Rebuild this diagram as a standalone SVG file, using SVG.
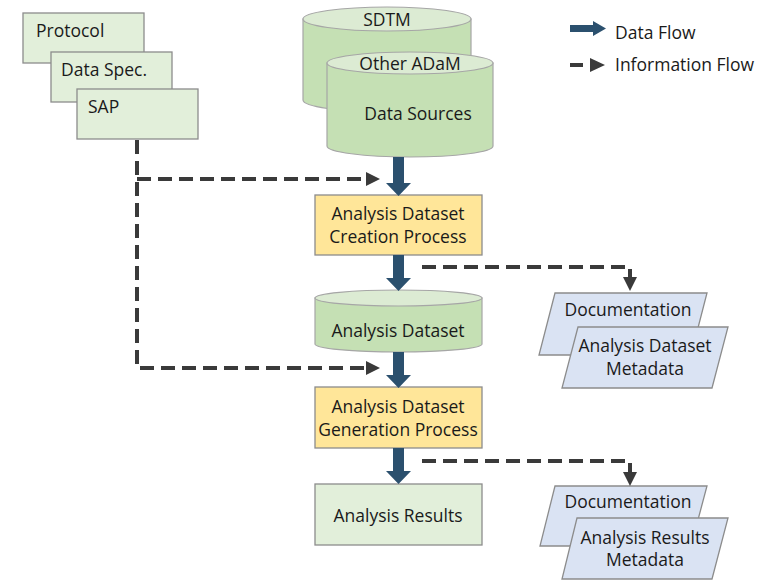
<svg xmlns="http://www.w3.org/2000/svg" width="768" height="583" viewBox="0 0 768 583">
<defs>
<style>
text{font-family:"Open Sans","Noto Sans","DejaVu Sans",sans-serif;font-size:17.5px;fill:#1a1a1a}
.c{text-anchor:middle}
.gbox{fill:#e2efda;stroke:#8c8c8c;stroke-width:1.3}
.ybox{fill:#ffe699;stroke:#8c8c8c;stroke-width:1.3}
.pbox{fill:#dae3f3;stroke:#8c8c8c;stroke-width:1.3}
.cyl{fill:#c5e0b4;stroke:#a6a6a6;stroke-width:1.2}
.cyltop{fill:#dcebd3;stroke:#a6a6a6;stroke-width:1.2}
.info{fill:none;stroke:#3a3a3a;stroke-width:4;stroke-dasharray:14 7}
.data{fill:#2b506e}
.head{fill:#3a3a3a}
</style>
</defs>
<rect width="768" height="583" fill="#ffffff"/>

<g id="protocol"><rect class="gbox" x="23" y="13" width="121" height="50"/><text x="36" y="37">Protocol</text></g>
<g id="dataspec"><rect class="gbox" x="51" y="52" width="121" height="50"/><text x="61" y="76">Data Spec.</text></g>
<g id="sap"><rect class="gbox" x="77" y="89" width="121" height="50"/><text x="88" y="113">SAP</text></g>

<g id="sdtm">
<path class="cyl" d="M303,19 V100 A84,12 0 0 0 471,100 V19 Z"/>
<ellipse class="cyltop" cx="387" cy="19" rx="84" ry="12"/>
<text class="c" x="387" y="26">SDTM</text>
</g>
<g id="datasources">
<path class="cyl" d="M327,63 V146 A83,11 0 0 0 493,146 V63 Z"/>
<ellipse class="cyltop" cx="410" cy="63" rx="83" ry="11"/>
<text class="c" x="410" y="70">Other ADaM</text>
<text class="c" x="418" y="120">Data Sources</text>
</g>

<g id="creation"><rect class="ybox" x="315" y="195" width="167" height="60"/>
<text class="c" x="398" y="220">Analysis Dataset</text><text class="c" x="398" y="243">Creation Process</text></g>

<g id="analysisdataset">
<path class="cyl" d="M315,298 V344 A83.5,8 0 0 0 482,344 V298 Z"/>
<ellipse class="cyltop" cx="398.5" cy="298" rx="83.5" ry="8"/>
<text class="c" x="398" y="337">Analysis Dataset</text>
</g>

<g id="generation"><rect class="ybox" x="315" y="387" width="167" height="61"/>
<text class="c" x="398" y="413">Analysis Dataset</text><text class="c" x="398" y="436">Generation Process</text></g>

<g id="results"><rect class="gbox" x="315" y="484" width="167" height="61"/>
<text class="c" x="398" y="522">Analysis Results</text></g>

<g id="doc1"><path class="pbox" d="M555,293 H707 L691,355 H539 Z"/><text class="c" x="628" y="316">Documentation</text></g>
<g id="admeta"><path class="pbox" d="M578,327 H728 L712,388 H562 Z"/><text class="c" x="645" y="352">Analysis Dataset</text><text class="c" x="645" y="375">Metadata</text></g>

<g id="doc2"><path class="pbox" d="M555,486 H707 L691,546 H540 Z"/><text class="c" x="628" y="508">Documentation</text></g>
<g id="armeta"><path class="pbox" d="M577,518 H728 L712,579 H562 Z"/><text class="c" x="645" y="544">Analysis Results</text><text class="c" x="645" y="566">Metadata</text></g>

<g id="connectors">
<path class="data" d="M393,157 H404 V183 H411 L398.5,196 L386,183 H393 Z"/>
<path class="data" d="M393,255 H404 V278 H411 L398.5,291 L386,278 H393 Z"/>
<path class="data" d="M393,352 H404 V375 H411 L398.5,388 L386,375 H393 Z"/>
<path class="data" d="M393,448 H404 V471 H411 L398.5,484 L386,471 H393 Z"/>

<path class="info" d="M137,140 V368 H368"/>
<path class="info" d="M137,179 H368"/>
<path class="head" d="M366,172 L380,179 L366,186 Z"/>
<path class="head" d="M366,361 L380,368 L366,375 Z"/>

<path class="info" d="M422,267 H630 V278"/>
<path class="head" d="M623,277 L637,277 L630,291 Z"/>
<path class="info" d="M422,461 H630 V472"/>
<path class="head" d="M623,472 L637,472 L630,486 Z"/>
</g>

<g id="legend">
<path class="data" d="M570,25 H593 V21 L606,28.5 L593,36 V32 H570 Z"/>
<text x="615" y="39">Data Flow</text>
<path d="M570,65 H583" stroke="#3a3a3a" stroke-width="4"/>
<path class="head" d="M590,58 L605,65 L590,72 Z"/>
<text x="615" y="71">Information Flow</text>
</g>
</svg>
